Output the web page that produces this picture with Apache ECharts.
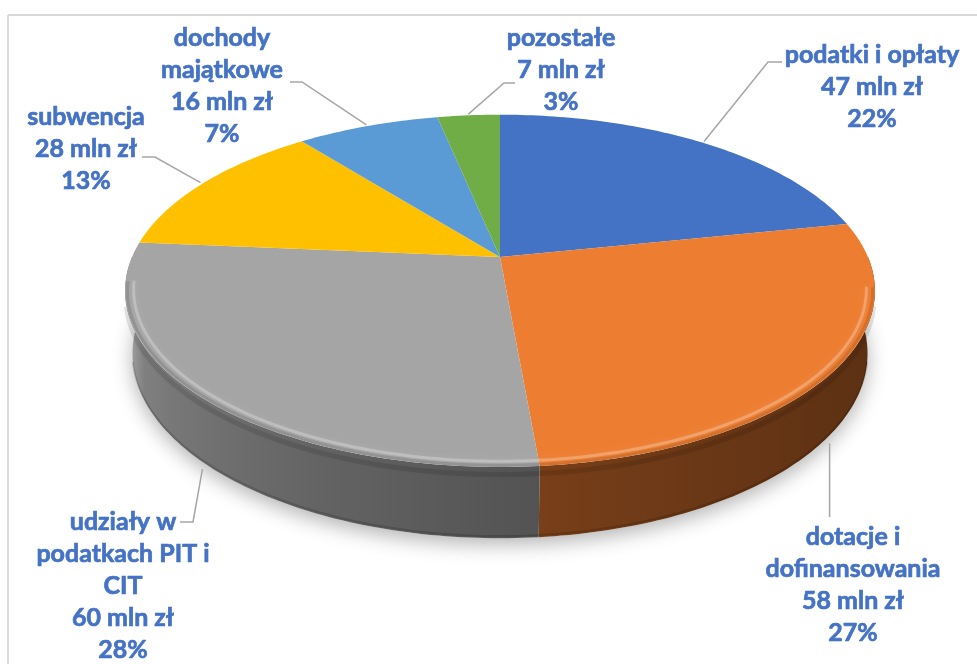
<!DOCTYPE html>
<html>
<head>
<meta charset="utf-8">
<script src="https://cdn.jsdelivr.net/npm/echarts@6/dist/echarts.min.js"></script>
<style>
  html, body { margin: 0; padding: 0; background: #ffffff; }
  #chart { width: 977px; height: 664px; }
</style>
</head>
<body>
<div id="chart"></div>
<script>
// dane
var categories = ['podatki i opłaty', 'dotacje i\ndofinansowania', 'udziały w\npodatkach PIT i\nCIT', 'subwencja', 'dochody\nmajątkowe', 'pozostałe'];
var values = [47, 58, 60, 28, 16, 7];
var unit = 'mln zł';
var colors = ['#4472C4', '#ED7D31', '#A5A5A5', '#FFC000', '#5B9BD5', '#70AD47'];

// polozenie etykiet (srodek tekstu, pierwsza linia) i zalamanie linii odniesienia
var labelPos = [
  { x: 872, y: 55, ex: 768, ey: 62, tx: 782 },
  { x: 853, y: 537, ex: null, ey: 517, tx: null },
  { x: 123, y: 522, ex: 193, ey: 522, tx: 180 },
  { x: 86, y: 117, ex: 155, ey: 157, tx: 142 },
  { x: 222, y: 38, ex: 302, ey: 82, tx: 290 },
  { x: 561, y: 38, ex: 504, ey: 83, tx: 515 }
];

// rzut perspektywiczny
var CX = 500, CY = 257, K = 1700, H = 2.13, D = 4.10, T = 0.193;
var L = Math.sqrt(H * H + D * D);
function proj(phiDeg, r, y) {
  var p = phiDeg * Math.PI / 180;
  var vx = r * Math.sin(p), vy = y - H, vz = -r * Math.cos(p) - D;
  var depth = (-H * vy - D * vz) / L;
  var sy = (D * vy - H * vz) / L;
  return [CX + K * vx / depth, CY - K * sy / depth];
}

var total = values.reduce(function (a, b) { return a + b; }, 0);
var starts = [], ends = [];
var acc = 0;
values.forEach(function (v) {
  starts.push(acc / total * 360);
  acc += v;
  ends.push(acc / total * 360);
});

function shade(hex, f) {
  var n = parseInt(hex.slice(1), 16);
  var r = Math.min(255, Math.round(((n >> 16) & 255) * f));
  var g = Math.min(255, Math.round(((n >> 8) & 255) * f));
  var b = Math.min(255, Math.round((n & 255) * f));
  return 'rgb(' + r + ',' + g + ',' + b + ')';
}
function sideFactor(phi) {
  var t = (phi - 90) / 180;
  return 0.38 + 0.56 * t * t;
}

var labelFont = { fontFamily: 'Lato', fontWeight: 'bold', fontSize: 25, lineHeight: 32, fill: '#4472C4', stroke: '#4472C4', lineWidth: 0.7 };

function renderShadow(params, api) {
  var pts = [];
  for (var a = 0; a <= 360; a += 2) pts.push(proj(a, 1, -T));
  return {
    type: 'polygon',
    shape: { points: pts },
    style: { fill: '#ffffff', shadowBlur: 20, shadowColor: 'rgba(0,0,0,0.3)', shadowOffsetY: 6 }
  };
}

function renderSide(params, api) {
  var i = params.dataIndex;
  var a0 = Math.max(starts[i], 90), a1 = Math.min(ends[i], 270);
  if (a1 <= a0) return { type: 'group', children: [] };
  var top = [], bottom = [];
  for (var a = a0; a < a1; a += 1) {
    top.push(proj(a, 1, 0));
    bottom.push(proj(a, 1, -T));
  }
  top.push(proj(a1, 1, 0));
  bottom.push(proj(a1, 1, -T));
  var xs = top.map(function (p) { return p[0]; });
  var xL = Math.min.apply(null, xs), xR = Math.max.apply(null, xs);
  var stops = [];
  for (var k = 0; k <= 10; k++) {
    var ang = a0 + (a1 - a0) * k / 10;
    var px = proj(ang, 1, 0)[0];
    stops.push({ offset: (px - xL) / (xR - xL || 1), color: shade(colors[i], sideFactor(ang)) });
  }
  stops.sort(function (p, q) { return p.offset - q.offset; });
  var grad = { type: 'linear', x: xL, y: 0, x2: xR, y2: 0, global: true, colorStops: stops };
  var pts = top.concat(bottom.reverse());
  var children = [{
    type: 'polygon',
    shape: { points: pts },
    style: { fill: grad }
  }];
  // ciemny pas pod krawedzia
  var b0 = Math.max(a0, 104), b1 = Math.min(a1, 256);
  if (b1 > b0) {
    var band = [];
    for (var b = b0; b <= b1; b += 1) band.push(proj(b, 1, -0.02));
    children.push({
      type: 'polyline',
      shape: { points: band },
      style: { fill: null, stroke: 'rgba(0,0,0,0.10)', lineWidth: 5, shadowBlur: 4, shadowColor: 'rgba(0,0,0,0.15)' }
    });
    var edge = [];
    for (var c = b0; c <= b1; c += 1) edge.push(proj(c, 1, -T + 0.006));
    children.push({
      type: 'polyline',
      shape: { points: edge },
      style: { fill: null, stroke: 'rgba(0,0,0,0.15)', lineWidth: 2 }
    });
  }
  return { type: 'group', children: children };
}

function renderTop(params, api) {
  var i = params.dataIndex;
  var pts = [[CX, CY]];
  for (var a = starts[i]; a < ends[i]; a += 1) pts.push(proj(a, 1, 0));
  pts.push(proj(ends[i], 1, 0));
  var children = [{
    type: 'polygon',
    shape: { points: pts },
    style: { fill: colors[i] }
  }];
  // rant
  var a0 = Math.max(starts[i], 100), a1 = Math.min(ends[i], 262);
  if (a1 > a0) {
    var rim = [];
    for (var a2 = a0; a2 <= a1; a2 += 1) rim.push(proj(a2, 0.978, 0));
    children.push({
      type: 'polyline',
      shape: { points: rim },
      style: { fill: null, stroke: 'rgba(255,255,255,0.25)', lineWidth: 3, shadowBlur: 6, shadowColor: 'rgba(255,255,255,0.5)' }
    });
    var rim2 = [];
    for (var a3 = a0; a3 <= a1; a3 += 1) rim2.push(proj(a3, 0.994, 0));
    children.push({
      type: 'polyline',
      shape: { points: rim2 },
      style: { fill: null, stroke: 'rgba(0,0,0,0.10)', lineWidth: 3, shadowBlur: 3, shadowColor: 'rgba(0,0,0,0.15)' }
    });
  }
  // etykieta
  var mid = (starts[i] + ends[i]) / 2;
  var front = mid > 100 && mid < 260;
  var s = proj(mid, 1.01, front ? -T - 0.01 : 0);
  var lp = labelPos[i];
  var pct = Math.round(values[i] / total * 100) + '%';
  var txt = categories[i] + '\n' + values[i] + ' ' + unit + '\n' + pct;
  var line = lp.ex == null ? [s, [s[0], lp.ey]] : [s, [lp.ex, lp.ey], [lp.tx, lp.ey]];
  children.push({
    type: 'polyline',
    shape: { points: line },
    style: { fill: null, stroke: '#a6a6a6', lineWidth: 1.5 }
  });
  children.push({
    type: 'text',
    style: Object.assign({ text: txt, x: lp.x, y: lp.y - 16, align: 'center', verticalAlign: 'top' }, labelFont)
  });
  return { type: 'group', children: children };
}

var chart = echarts.init(document.getElementById('chart'));
chart.setOption({
  backgroundColor: '#ffffff',
  animation: false,
  graphic: [
    { type: 'line', shape: { x1: 8, y1: 15, x2: 977, y2: 15 }, style: { stroke: '#d9d9d9', lineWidth: 2 } },
    { type: 'line', shape: { x1: 8, y1: 15, x2: 8, y2: 664 }, style: { stroke: '#d9d9d9', lineWidth: 2 } }
  ],
  series: [
    { type: 'custom', coordinateSystem: 'none', renderItem: renderShadow, data: [0], z: 1, silent: true },
    { type: 'custom', coordinateSystem: 'none', renderItem: renderSide, data: values, z: 2 },
    { type: 'custom', coordinateSystem: 'none', renderItem: renderTop, data: values, z: 3 }
  ]
});
</script>
</body>
</html>
